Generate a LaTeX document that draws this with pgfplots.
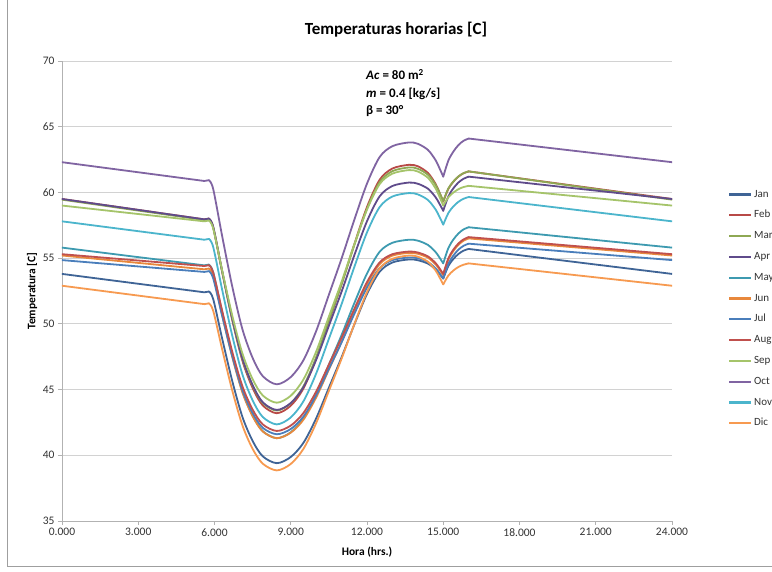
\documentclass[border=0pt]{standalone}
\usepackage{pgfplots}
\pgfplotsset{compat=1.18}
\usepackage{pgfplotstable}
\usepackage{fontspec}
\setmainfont{Carlito}

\definecolor{cJan}{HTML}{3F6496}
\definecolor{cFeb}{HTML}{B84A47}
\definecolor{cMar}{HTML}{8EA853}
\definecolor{cApr}{HTML}{5F4B8B}
\definecolor{cMay}{HTML}{3D9AB0}
\definecolor{cJun}{HTML}{E8883C}
\definecolor{cJul}{HTML}{4A7EBB}
\definecolor{cAug}{HTML}{C0504D}
\definecolor{cSep}{HTML}{A5C46A}
\definecolor{cOct}{HTML}{8064A2}
\definecolor{cNov}{HTML}{4BB5CC}
\definecolor{cDic}{HTML}{F79A50}

\pgfplotstableread{
t Jan Feb Mar Apr May Jun Jul Aug Sep Oct Nov Dic
0 53.8 59.5 59.45 59.5 55.8 55.2 54.85 55.3 59.0 62.3 57.8 52.9
5.6 52.4 57.95 57.9 57.95 54.45 54.15 53.95 54.4 57.8 60.87 56.4 51.5
5.78 52.46 58.01 57.96 58.01 54.51 54.21 54.01 54.46 57.86 60.93 56.46 51.56
5.95 51.88 57.36 57.32 57.37 53.92 53.64 53.46 53.90 57.25 60.25 55.84 50.99
6.3 48.89 53.97 53.99 54.04 50.90 50.68 50.62 51.01 54.07 56.69 52.61 48.08
6.7 45.64 50.28 50.36 50.41 47.61 47.47 47.53 47.87 50.62 52.83 49.09 44.92
7.1 42.91 47.18 47.32 47.37 44.85 44.77 44.93 45.24 47.73 49.58 46.14 42.27
7.5 41.09 45.12 45.29 45.34 43.01 42.97 43.21 43.48 45.79 47.41 44.18 40.49
7.9 39.92 43.79 43.98 44.03 41.83 41.81 42.09 42.35 44.55 46.02 42.91 39.36
8.45 39.4 43.2 43.4 43.45 41.3 41.3 41.6 41.85 44.0 45.4 42.35 38.85
9.0 39.87 43.77 43.96 43.97 41.75 41.72 42.00 42.26 44.53 45.95 42.88 39.34
9.5 40.95 45.09 45.25 45.18 42.81 42.71 42.95 43.22 45.77 47.24 44.11 40.49
10.0 42.81 47.36 47.47 47.26 44.62 44.40 44.56 44.85 47.89 49.45 46.22 42.45
10.5 45.14 50.19 50.25 49.85 46.89 46.52 46.58 46.90 50.55 52.21 48.86 44.90
11.0 47.46 53.03 53.02 52.45 49.15 48.63 48.59 48.95 53.20 54.97 51.50 47.35
11.5 49.94 56.05 55.98 55.21 51.57 50.89 50.75 51.13 56.04 57.91 54.32 49.97
12.0 52.27 58.89 58.76 57.81 53.83 53.00 52.76 53.18 58.69 60.67 56.96 52.42
12.5 53.97 60.97 60.79 59.71 55.49 54.55 54.24 54.68 60.64 62.70 58.89 54.22
13.0 54.67 61.82 61.62 60.49 56.17 55.19 54.85 55.30 61.43 63.52 59.69 54.95
13.65 54.9 62.1 61.9 60.75 56.4 55.4 55.05 55.5 61.7 63.8 59.95 55.2
14.0 54.84 61.99 61.80 60.66 56.33 55.33 54.99 55.43 61.59 63.70 59.85 55.11
14.4 54.58 61.48 61.34 60.28 56.0 55.03 54.70 55.13 61.11 63.23 59.42 54.72
14.7 54.15 60.64 60.57 59.63 55.46 54.52 54.22 54.62 60.30 62.45 58.70 54.06
14.85 53.81 60.0 59.99 59.14 55.05 54.13 53.85 54.23 59.68 61.85 58.15 53.55
15.0 53.45 59.3 59.35 58.6 54.6 53.7 53.45 53.8 59.0 61.2 57.55 53.0
15.2 54.40 60.27 60.30 59.69 55.76 54.88 54.56 54.98 59.63 62.42 58.43 53.67
15.4 54.94 60.82 60.84 60.32 56.42 55.55 55.20 55.65 59.99 63.11 58.94 54.06
15.6 55.32 61.21 61.22 60.76 56.88 56.02 55.65 56.12 60.25 63.61 59.29 54.33
15.8 55.57 61.46 61.47 61.04 57.19 56.33 55.94 56.43 60.41 63.93 59.52 54.50
16.0 55.7 61.6 61.6 61.2 57.35 56.5 56.1 56.6 60.5 64.1 59.65 54.6
24 53.8 59.5 59.45 59.5 55.8 55.2 54.85 55.3 59.0 62.3 57.8 52.9
}\data

\begin{document}
\begin{tikzpicture}
\useasboundingbox (0pt,0pt) rectangle (772pt,572pt);
\clip (0pt,0pt) rectangle (772pt,572pt);
\fill[white] (0pt,0pt) rectangle (772pt,572pt);
\draw[gray!75, line width=0.8pt] (7pt,572pt) -- (7pt,6pt) -- (772pt,6pt);
\node[font=\fontsize{17}{20}\selectfont\bfseries] at (396pt,542pt) {Temperaturas horarias [C]};
\begin{axis}[
  at={(62pt,51pt)}, anchor=south west, scale only axis,
  width=610pt, height=460pt,
  xmin=0, xmax=24, ymin=35, ymax=70,
  xtick={0,3,...,24}, ytick={35,40,...,70},
  axis x line*=bottom, axis y line*=left,
  axis line style={draw=gray!60, line width=0.8pt, -},
  tick align=outside, major tick length=4pt,
  tick style={gray!60, line width=0.8pt},
  ymajorgrids, grid style={draw=gray!35, line width=0.8pt},
  ticklabel style={font=\fontsize{11.5}{13}\selectfont, text=black!80},
  x tick label style={/pgf/number format/fixed, /pgf/number format/fixed zerofill, /pgf/number format/precision=3, /pgf/number format/assume math mode=true},
  y tick label style={/pgf/number format/assume math mode=true},
  xlabel={Hora (hrs.)}, ylabel={Temperatura [C]},
  label style={font=\fontsize{11.5}{13}\selectfont\bfseries},
  xlabel style={at={(axis description cs:0.5,-0.0674)}, anchor=center},
  ylabel style={at={(axis description cs:-0.0492,0.5)}, anchor=center},
  every axis plot/.append style={line width=1.8pt, line join=round, line cap=round, no marks},
  legend style={at={(axis description cs:1.0918,0.7207)}, anchor=north west, draw=none, fill=none, inner sep=0pt, outer sep=0pt, font=\fontsize{11}{13}\selectfont, text=black!80, row sep=10.8pt, column sep=2pt, nodes={inner sep=0pt, text height=7.6pt, text depth=2.4pt}},
  legend cell align=left,
  legend image code/.code={\draw[#1,line width=2.2pt,line cap=butt] (0pt,0pt) -- (22pt,0pt);},
]
\pgfplotsinvokeforeach{Jan,Feb,Mar,Apr,May,Jun,Jul,Aug,Sep,Oct,Nov,Dic}{
  \addplot[c#1, restrict x to domain=0:5.79] table[x=t,y=#1]{\data};
  \addlegendentry{#1}
  \addplot[c#1, smooth, tension=0.5, forget plot, restrict x to domain=5.77:15.01] table[x=t,y=#1]{\data};
  \addplot[c#1, smooth, tension=0.5, forget plot, restrict x to domain=14.99:16.01] table[x=t,y=#1]{\data};
  \addplot[c#1, forget plot, restrict x to domain=15.99:24] table[x=t,y=#1]{\data};
}
\end{axis}
\node[anchor=north west, align=left, font=\fontsize{13}{17.5}\selectfont\bfseries, inner sep=0pt] at (366pt,503pt) {\textit{Ac} = 80 m\textsuperscript{2}\\ \textit{m} = 0.4 [kg/s]\\ β = 30°};
\end{tikzpicture}
\end{document}
